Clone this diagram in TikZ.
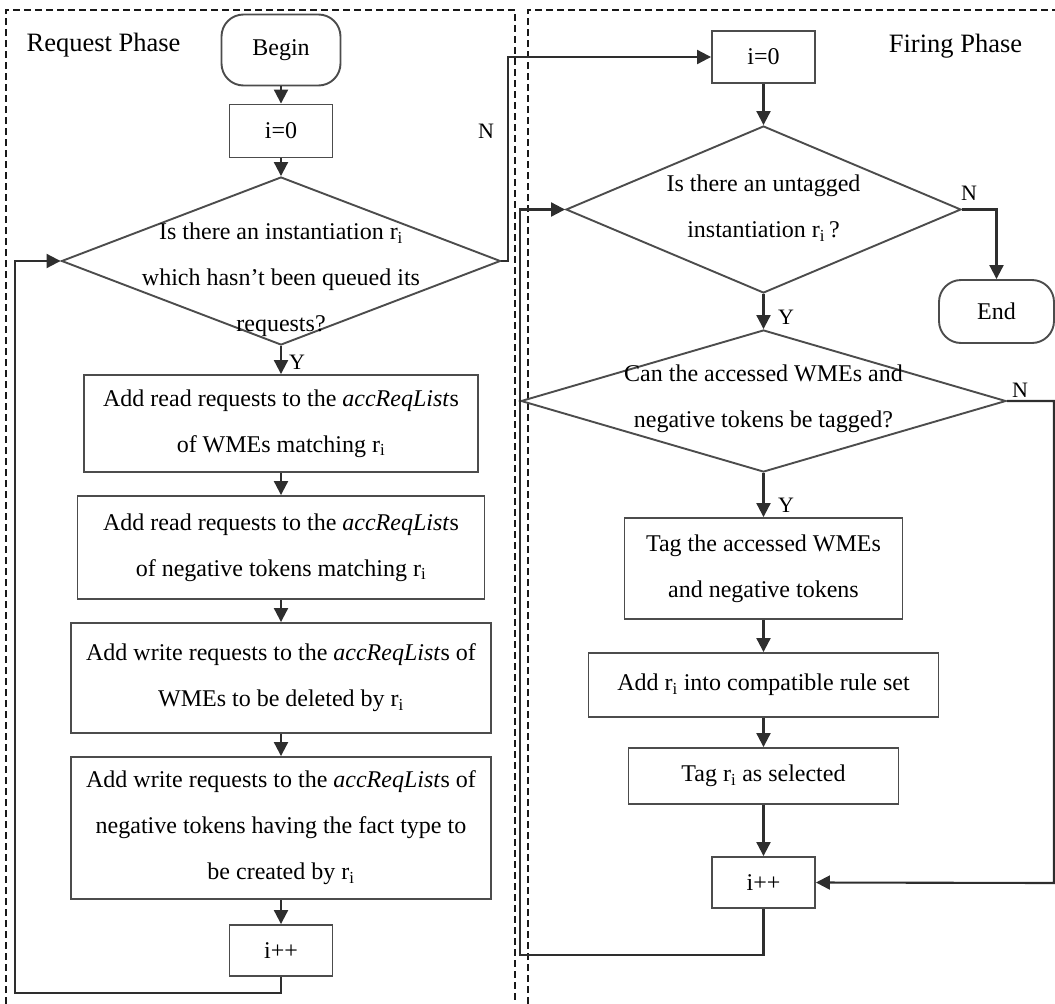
\documentclass[tikz,border=0pt]{standalone}
\usepackage{fontspec}
\setmainfont{Liberation Serif}
\usetikzlibrary{shapes.geometric,arrows.meta}

\begin{document}
\begin{tikzpicture}[x=1pt,y=-1pt,
  line/.style={draw=black!82,line width=2.1pt},
  arr/.style={line,-{Triangle[length=14pt,width=14pt]}},
  txt/.style={font=\fontsize{24}{46}\selectfont,align=center,inner sep=0pt},
  box/.style={txt,draw=black!70,line width=1.9pt,rectangle},
  term/.style={box,rounded corners=22pt},
  dec/.style={draw=black!70,line width=1.9pt,diamond,inner sep=0pt},
  yn/.style={font=\fontsize{22}{26}\selectfont,inner sep=0pt},
  phase/.style={draw=black!90,line width=1.5pt,dash pattern=on 7pt off 4pt},
  title/.style={font=\fontsize{26.5}{30}\selectfont,inner sep=0pt},
]
\useasboundingbox (0,0) rectangle (1055,1004);

% phase frames
\draw[phase] (6,1004) -- (6,10) -- (515,10) -- (515,1004);
\draw[phase] (528,1004) -- (528,10) -- (1055,10);
\node[title] (reqt) at (103.5,45) {Request Phase};
\node[title] (firt) at (955.5,46) {Firing Phase};

% request phase
\node[term,minimum width=119pt,minimum height=71pt] (begin) at (281,50) {Begin};
\node[box,minimum width=103pt,minimum height=53pt] (iL) at (281,131) {i=0};
\node[dec,minimum width=439pt,minimum height=168pt] (d1) at (281,261) {};
\node[txt] (d1t) at (281,280) {Is there an instantiation r\textsubscript{i}\\which hasn’t been queued its\\requests?};
\node[box,minimum width=394pt,minimum height=97pt] (b1) at (281,423.5)
  {Add read requests to the \textit{accReqList}s\\of WMEs matching r\textsubscript{i}};
\node[box,minimum width=407pt,minimum height=103pt] (b2) at (281,547.5)
  {Add read requests to the \textit{accReqList}s\\of negative tokens matching r\textsubscript{i}};
\node[box,minimum width=420pt,minimum height=110pt] (b3) at (281,678)
  {Add write requests to the \textit{accReqList}s of\\WMEs to be deleted by r\textsubscript{i}};
\node[box,minimum width=420pt,minimum height=142pt] (b4) at (281,828)
  {Add write requests to the \textit{accReqList}s of\\negative tokens having the fact type to\\be created by r\textsubscript{i}};
\node[box,minimum width=103pt,minimum height=51pt] (incL) at (281,950.5) {i++};

% firing phase
\node[box,minimum width=103pt,minimum height=52pt] (iR) at (763.5,57) {i=0};
\node[dec,minimum width=395pt,minimum height=167pt] (d2) at (763.5,209.5) {};
\node[txt] (d2t) at (763.5,208.5) {Is there an untagged\\instantiation r\textsubscript{i}\,?};
\node[term,minimum width=115pt,minimum height=63pt] (end) at (996.5,311.5) {End};
\node[dec,minimum width=485pt,minimum height=142pt] (d3) at (763.5,401) {};
\node[txt] (d3t) at (763.5,398.5) {Can the accessed WMEs and\\negative tokens be tagged?};
\node[box,minimum width=278pt,minimum height=101pt] (tag) at (763.5,568.5)
  {Tag the accessed WMEs\\and negative tokens};
\node[box,minimum width=350pt,minimum height=64pt] (add) at (763.5,685)
  {Add r\textsubscript{i} into compatible rule set};
\node[box,minimum width=270pt,minimum height=56pt] (sel) at (763.5,776)
  {Tag r\textsubscript{i} as selected};
\node[box,minimum width=103pt,minimum height=51pt] (incR) at (763.5,882.5) {i++};

% request phase flow
\draw[arr] (begin) -- (iL);
\draw[arr] (iL) -- (d1.north);
\draw[arr] (d1.south) -- (b1);
\draw[arr] (b1) -- (b2);
\draw[arr] (b2) -- (b3);
\draw[arr] (b3) -- (b4);
\draw[arr] (b4) -- (incL);
\coordinate (lb) at (15,993);
\draw[arr] (incL.south) |- (lb) |- (d1.west);
\coordinate (nx) at (508,57);
\draw[arr] (d1.east) -| (nx) -- (iR.west);
\node[yn] (y1) at (297,362) {Y};
\node[yn] (n1) at (486,131) {N};

% firing phase flow
\draw[arr] (iR) -- (d2.north);
\draw[arr] (d2.east) -| (end.north);
\draw[arr] (d2.south) -- (d3.north);
\draw[arr] (d3.south) -- (tag);
\draw[arr] (tag) -- (add);
\draw[arr] (add) -- (sel);
\draw[arr] (sel) -- (incR);
\coordinate (rc) at (1054,883);
\draw[arr] (d3.east) -| (rc) -- (incR.east);
\coordinate (rb) at (520,955);
\draw[arr] (incR.south) |- (rb) |- (d2.west);
\node[yn] (n2) at (969,193) {N};
\node[yn] (y2) at (786,317) {Y};
\node[yn] (n3) at (1020,390) {N};
\node[yn] (y3) at (786,505) {Y};
\end{tikzpicture}
\end{document}
